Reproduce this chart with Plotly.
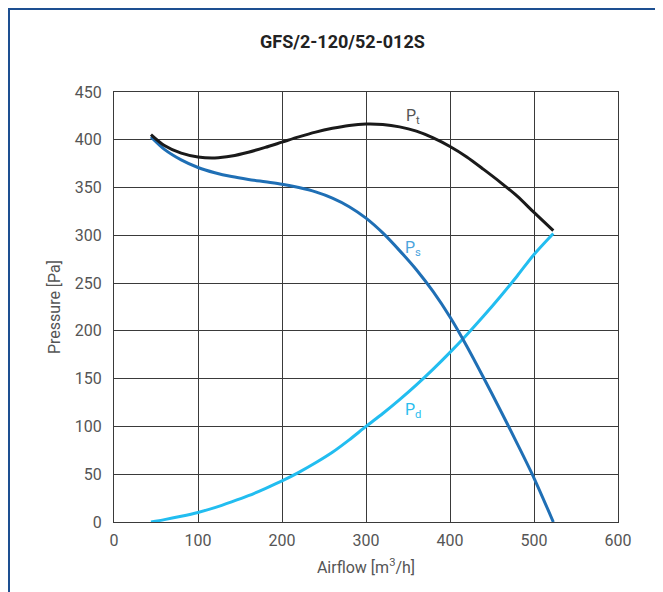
import plotly.graph_objects as go

# Data
pt_x = [44, 60, 80, 100, 120, 140, 160, 180, 200, 220, 240, 260, 280, 300, 320, 340, 360, 380, 400, 420, 440, 460, 480, 500, 523]
pt_y = [405.5, 394, 386, 382, 381, 383, 387, 392, 397.5, 403, 408, 412, 415, 416.5, 416, 413.5, 409, 402, 393, 382, 369, 355.5, 341, 324, 305]

ps_x = [44, 60, 80, 100, 120, 140, 160, 180, 200, 220, 240, 260, 280, 300, 320, 340, 360, 380, 400, 420, 440, 460, 480, 500, 523]
ps_y = [403, 390, 379, 371, 365.5, 361.5, 358.5, 356, 353.5, 350, 345.5, 339, 330, 318, 302.5, 284, 264, 241, 214.5, 184, 151, 117, 82, 46, 0]

pd_x = [44, 60, 80, 100, 120, 140, 160, 180, 200, 220, 240, 260, 280, 300, 320, 340, 360, 380, 400, 420, 440, 460, 480, 500, 523]
pd_y = [0, 2.5, 6, 10, 15, 21, 27.5, 35, 43, 52, 62, 73, 86, 100, 113.5, 128, 143.5, 160, 177.5, 196, 215.5, 236, 257.5, 280, 302]

title_text = "GFS/2-120/52-012S"
x_title = "Airflow [m<sup>3</sup>/h]"
y_title = "Pressure [Pa]"
x_ticks = [0, 100, 200, 300, 400, 500, 600]
y_ticks = [0, 50, 100, 150, 200, 250, 300, 350, 400, 450]

FONT = "Roboto, sans-serif"

# page body has an 8px margin; plot area in the picture spans x 114..618, y 92..521.7
L, T = 106, 84
PW, PH = 504, 429.7
R = 663 - L - PW
B = 592 - T - PH


def px(xabs):
    return (xabs - 8 - L) / PW


def py(yabs):
    return (T + PH - (yabs - 8)) / PH


fig = go.Figure()
fig.add_trace(go.Scatter(x=pd_x, y=pd_y, mode="lines", line=dict(color="#22bdf0", width=3, shape="spline", smoothing=0.8), name="Pd"))
fig.add_trace(go.Scatter(x=ps_x, y=ps_y, mode="lines", line=dict(color="#1f6fb5", width=3, shape="spline", smoothing=0.8), name="Ps"))
fig.add_trace(go.Scatter(x=pt_x, y=pt_y, mode="lines", line=dict(color="#1a1a1a", width=3, shape="spline", smoothing=0.8), name="Pt"))

fig.add_annotation(x=356, y=424, text="P<sub>t</sub>", showarrow=False, font=dict(family=FONT, size=16, color="#555555"))
fig.add_annotation(x=356, y=286, text="P<sub>s</sub>", showarrow=False, font=dict(family=FONT, size=16, color="#4aa3dc"))
fig.add_annotation(x=356, y=117, text="P<sub>d</sub>", showarrow=False, font=dict(family=FONT, size=16, color="#29bdee"))

fig.add_annotation(xref="paper", yref="paper", x=px(342), y=py(42), xanchor="center", yanchor="middle",
                   text="<b>" + title_text + "</b>", showarrow=False,
                   font=dict(family=FONT, size=18, color="#222222"))

# outer border
fig.add_shape(type="rect", xref="paper", yref="paper",
              x0=px(9), x1=px(720), y0=py(640), y1=py(9),
              line=dict(color="#1d4f91", width=2), layer="below")

axis_common = dict(showgrid=True, gridcolor="#3a3a3a", gridwidth=1, showline=True, linecolor="#3a3a3a",
                   linewidth=1, mirror=True, zeroline=False, ticks="",
                   tickfont=dict(family=FONT, size=16, color="#555555"))

fig.update_layout(
    width=663, height=592,
    margin=dict(l=L, r=R, t=T, b=B),
    paper_bgcolor="white", plot_bgcolor="white",
    showlegend=False,
    xaxis=dict(range=[0, 600], tickvals=x_ticks, title=dict(text=x_title, font=dict(family=FONT, size=16, color="#555555"), standoff=12),
               ticklabelstandoff=4, **axis_common),
    yaxis=dict(range=[0, 450], tickvals=y_ticks, title=dict(text=y_title, font=dict(family=FONT, size=16, color="#555555"), standoff=10),
               ticklabelstandoff=8, **axis_common),
)

fig.write_html("out.html")
